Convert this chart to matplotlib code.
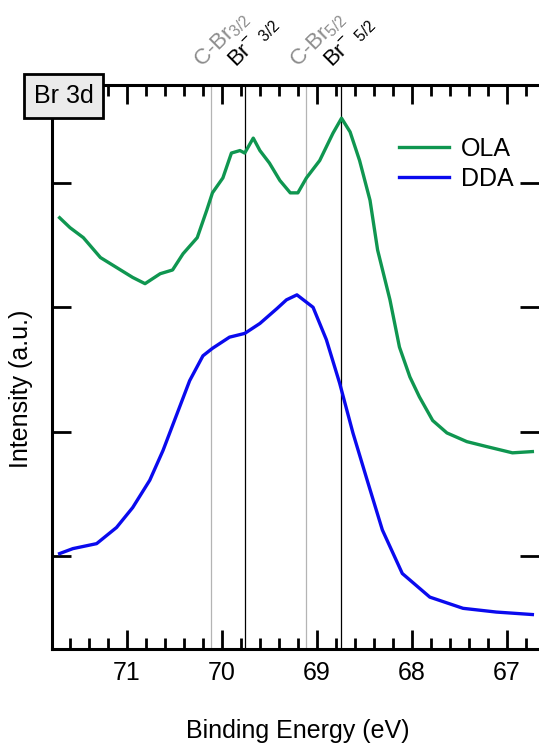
import matplotlib
matplotlib.use("Agg")
import matplotlib.pyplot as plt
from matplotlib.ticker import MultipleLocator

plt.rcParams['font.family'] = ['Liberation Sans', 'DejaVu Sans']
plt.rcParams['mathtext.fontset'] = 'custom'
plt.rcParams['mathtext.rm'] = 'Liberation Sans'
plt.rcParams['mathtext.it'] = 'Liberation Sans'
plt.rcParams['mathtext.bf'] = 'Liberation Sans'

# OLA spectrum (binding energy, eV / intensity, a.u.)
ola_be = [71.71, 71.60, 71.46, 71.28, 71.11, 70.94, 70.81, 70.65, 70.52, 70.41,
          70.26, 70.16, 70.10, 69.99, 69.90, 69.81, 69.76, 69.67, 69.60, 69.50,
          69.39, 69.28, 69.20, 69.11, 68.97, 68.83, 68.74, 68.65, 68.55, 68.44,
          68.36, 68.23, 68.13, 68.02, 67.92, 67.78, 67.63, 67.42, 67.21, 66.94,
          66.73]
ola_int = [3.72, 3.64, 3.56, 3.40, 3.32, 3.24, 3.19, 3.27, 3.30, 3.43,
           3.56, 3.78, 3.92, 4.04, 4.24, 4.26, 4.24, 4.36, 4.26, 4.16,
           4.02, 3.92, 3.92, 4.04, 4.18, 4.40, 4.52, 4.41, 4.18, 3.86,
           3.46, 3.06, 2.68, 2.44, 2.28, 2.09, 1.99, 1.92, 1.88, 1.83,
           1.84]

# DDA spectrum
dda_be = [71.71, 71.57, 71.32, 71.11, 70.94, 70.76, 70.62, 70.47, 70.34, 70.20,
          70.10, 69.92, 69.76, 69.60, 69.42, 69.32, 69.21, 69.04, 68.90, 68.76,
          68.62, 68.47, 68.31, 68.10, 67.81, 67.46, 67.11, 66.73]
dda_int = [1.02, 1.06, 1.10, 1.23, 1.39, 1.61, 1.85, 2.15, 2.41, 2.61,
           2.67, 2.76, 2.79, 2.87, 2.99, 3.06, 3.10, 3.00, 2.74, 2.39,
           1.99, 1.61, 1.21, 0.86, 0.67, 0.58, 0.55, 0.53]

# reference peak positions
ref_be = [70.12, 69.76, 69.11, 68.75]
ref_labels = [r'C-Br$_{3/2}$', r'Br$^{-}$ $_{3/2}$', r'C-Br$_{5/2}$', r'Br$^{-}$ $_{5/2}$']
ref_colors = ['#b4b4b4', 'black', '#b4b4b4', 'black']
ref_text_colors = ['#8c8c8c', 'black', '#8c8c8c', 'black']

fig = plt.figure(figsize=(5.39, 7.46), dpi=100)
ax = fig.add_axes([52 / 539, 1 - 649 / 746, 487 / 539, 564 / 746])

ax.plot(ola_be, ola_int, color='#0f9650', lw=2.4, label='OLA', zorder=3)
ax.plot(dda_be, dda_int, color='#0a0aee', lw=2.4, label='DDA', zorder=3)

for be, lab, c, tc in zip(ref_be, ref_labels, ref_colors, ref_text_colors):
    ax.axvline(be, color=c, lw=0.9, zorder=1)
    ax.annotate(lab, xy=(be, 1.0), xycoords=('data', 'axes fraction'),
                xytext=(-6, 12), textcoords='offset points',
                rotation=45, rotation_mode='anchor', ha='left', va='baseline',
                fontsize=16, color=tc, annotation_clip=False)

ax.set_xlim(71.79, 66.66)
ax.set_ylim(0.253, 4.787)
ax.xaxis.set_major_locator(MultipleLocator(1))
ax.xaxis.set_minor_locator(MultipleLocator(0.2))
ax.set_yticks([1, 2, 3, 4])
ax.set_yticklabels([])

ax.tick_params(axis='both', which='both', direction='in', top=True, right=True, width=2.0)
ax.tick_params(axis='both', which='major', length=14)
ax.tick_params(axis='x', which='minor', length=8)
ax.tick_params(axis='x', labelsize=18, pad=9)
for s in ax.spines.values():
    s.set_linewidth(2.2)
ax.spines['right'].set_visible(False)

ax.set_xlabel('Binding Energy (eV)', fontsize=18)
ax.set_ylabel('Intensity (a.u.)', fontsize=18)
ax.xaxis.set_label_coords(0.504, -0.124)
ax.yaxis.set_label_coords(-0.039, 0.461)

ax.legend(loc='center left', bbox_to_anchor=(0.712, 0.86), frameon=False,
          fontsize=18, handlelength=2.0, handletextpad=0.5, labelspacing=0.25,
          borderpad=0, borderaxespad=0)

fig.text(63.5 / 539, 1 - 96 / 746, 'Br 3d', fontsize=18, ha='center', va='center',
         bbox=dict(boxstyle='square,pad=0.4', fc='#ebebeb', ec='black', lw=2.0),
         zorder=5)

fig.savefig('out.png', dpi=100)
